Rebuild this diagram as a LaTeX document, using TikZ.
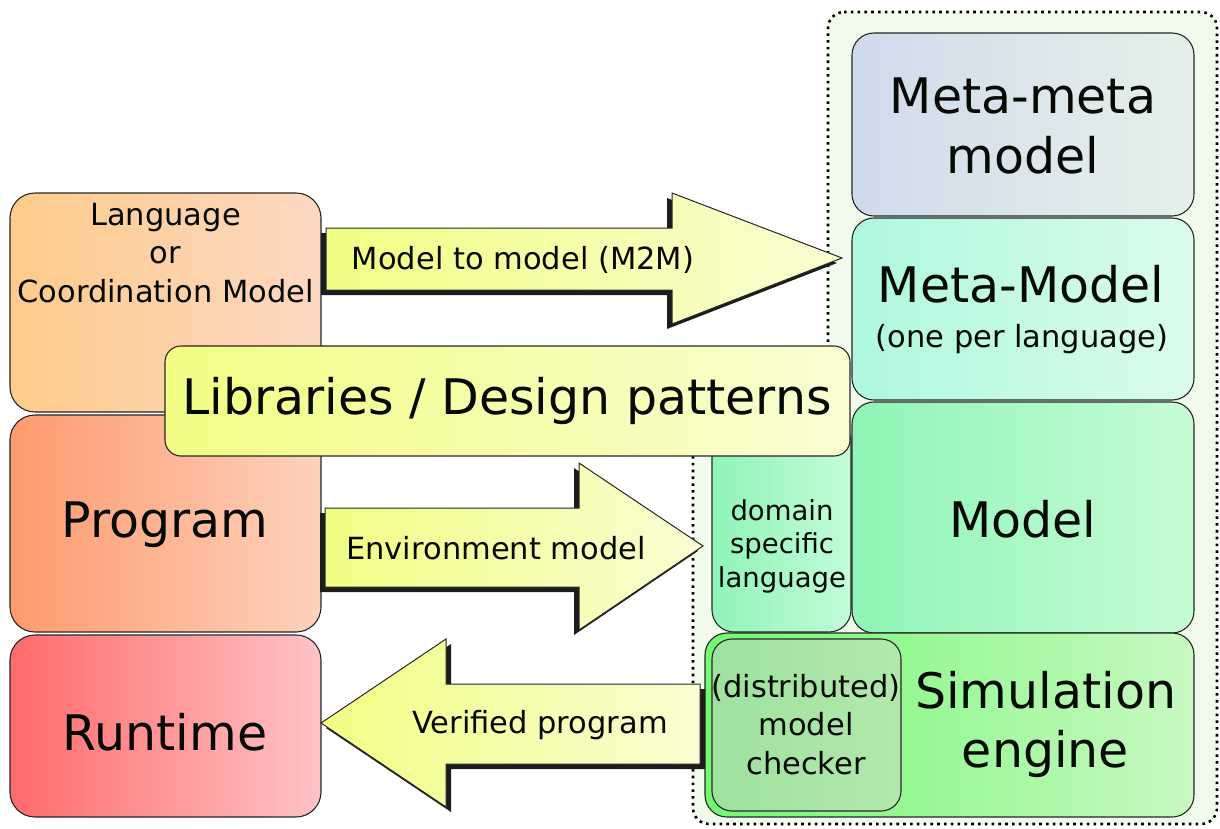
\documentclass[tikz,border=0pt]{standalone}
\usepackage{fontspec}
\setmainfont{DejaVu Sans}

% fill colours (left / right end of each horizontal gradient)
\definecolor{langL}{HTML}{FDCB8B}\definecolor{langR}{HTML}{FDD8C2}
\definecolor{progL}{HTML}{FD9A6E}\definecolor{progR}{HTML}{FED2BC}
\definecolor{runL}{HTML}{FF6B6B}\definecolor{runR}{HTML}{FFC3C6}
\definecolor{ylwL}{HTML}{F2FD84}\definecolor{ylwR}{HTML}{FAFDD2}
\definecolor{mmL}{HTML}{CFDBEC}\definecolor{mmR}{HTML}{E5F1EA}
\definecolor{metaL}{HTML}{AEF8DE}\definecolor{metaR}{HTML}{DBFCEC}
\definecolor{modelL}{HTML}{8FF5B6}\definecolor{modelR}{HTML}{C6FBD6}
\definecolor{dslL}{HTML}{8FF4B8}\definecolor{dslR}{HTML}{C2FCD8}
\definecolor{simL}{HTML}{72F872}\definecolor{simR}{HTML}{C8F8C2}
\definecolor{chkL}{HTML}{9FE29F}\definecolor{chkR}{HTML}{B2E8AC}
\definecolor{framefill}{HTML}{F0FBEB}
\definecolor{edge}{HTML}{262626}
\definecolor{shadowc}{HTML}{1C1C1C}
\definecolor{ink}{HTML}{050A05}

\tikzset{
  box/.style={draw=edge, line width=1.1pt, rounded corners=22pt, inner sep=0pt},
  bigtext/.style={font=\fontsize{49}{60}\selectfont, inner sep=0pt, text=ink, align=center},
  smalltext/.style={font=\fontsize{30.5}{38.5}\selectfont, inner sep=0pt, text=ink, align=center},
  bigarrow/.style={draw=edge, line width=1pt, left color=ylwL, right color=ylwR},
  arrowshadow/.style={fill=shadowc},
  frame/.style={fill=framefill, draw=black, line width=2.6pt,
                dash pattern=on 2.6pt off 4.2pt, rounded corners=16pt}
}

\begin{document}
\begin{tikzpicture}[x=1pt,y=-1pt]
\useasboundingbox (0,0) rectangle (1220,828);

% dotted frame around the modelling tool chain
\path[frame] (828,12) -- (1217,12) -- (1217,824) -- (693,824) -- (693,400)
  -- (828,400) -- cycle;

% modelling stack (right)
\node[box, minimum width=342pt, minimum height=183pt, left color=mmL, right color=mmR]
  (metameta) at (1023,124.5) {};
\node[box, minimum width=342pt, minimum height=182pt, left color=metaL, right color=metaR]
  (metamodel) at (1023,309) {};
\node[box, minimum width=139pt, minimum height=212pt, left color=dslL, right color=dslR]
  (dsl) at (781.5,526) {};
\node[box, minimum width=342pt, minimum height=231pt, left color=modelL, right color=modelR]
  (model) at (1023,517.5) {};
\node[box, minimum width=489pt, minimum height=184pt, left color=simL, right color=simR]
  (sim) at (949.5,725) {};
\node[box, rounded corners=20pt, minimum width=189pt, minimum height=172pt,
  left color=chkL, right color=chkR] (checker) at (806.5,725) {};

\node[bigtext, anchor=north] (metametatext) at (1023,77.5) {Meta-meta\\model};
\node[bigtext, anchor=base] (metamodeltext) at (1021,302) {Meta-Model};
\node[smalltext, anchor=base] (metamodelnote) at (1022,347) {(one per language)};
\node[bigtext, anchor=base] (modeltext) at (1023,537) {Model};
\node[smalltext, font=\fontsize{27.5}{33.5}\selectfont, anchor=north]
  (dsltext) at (782,499) {domain\\specific\\language};
\node[bigtext, font=\fontsize{49}{59}\selectfont, anchor=north]
  (simtext) at (1045.5,671) {Simulation\\engine};
\node[smalltext, anchor=north] (checkertext) at (806,674) {(distributed)\\model\\checker};

% programming stack (left)
\node[box, rounded corners=25pt, minimum width=311pt, minimum height=219pt,
  left color=langL, right color=langR] (language) at (165.5,302.5) {};
\node[box, rounded corners=25pt, minimum width=311pt, minimum height=217pt,
  left color=progL, right color=progR] (program) at (165.5,523.5) {};
\node[box, rounded corners=25pt, minimum width=311pt, minimum height=182pt,
  left color=runL, right color=runR] (runtime) at (165.5,726) {};

\node[smalltext, anchor=north] (languagetext) at (165.5,203) {Language\\or\\Coordination Model};
\node[bigtext, anchor=base] (programtext) at (165,537) {Program};
\node[bigtext, anchor=base] (runtimetext) at (165,750) {Runtime};

% transformation arrows, each with a hard drop shadow
\fill[arrowshadow, shift={(-5,5)}] (326,228) -- (672,228) -- (672,193) -- (842,258)
  -- (672,324) -- (672,290) -- (326,290) -- cycle;
\path[bigarrow] (326,228) -- (672,228) -- (672,193) -- (842,258)
  -- (672,324) -- (672,290) -- (326,290) -- cycle;
\node[smalltext, anchor=base] (m2m) at (523,269) {Model to model (M2M)};

\fill[arrowshadow, shift={(-5,5)}] (325,508) -- (579,508) -- (579,463) -- (703,546)
  -- (579,630) -- (579,587) -- (325,587) -- cycle;
\path[bigarrow] (325,508) -- (579,508) -- (579,463) -- (703,546)
  -- (579,630) -- (579,587) -- (325,587) -- cycle;
\node[smalltext, anchor=base] (envmodel) at (496,559) {Environment model};

\fill[arrowshadow, shift={(5,5)}] (700,684) -- (446,684) -- (446,639) -- (321,723)
  -- (446,807) -- (446,764) -- (700,764) -- cycle;
\path[bigarrow] (700,684) -- (446,684) -- (446,639) -- (321,723)
  -- (446,807) -- (446,764) -- (700,764) -- cycle;
\node[smalltext, anchor=base] (verified) at (540,733) {Verified program};

% libraries box laid over both stacks
\node[box, rounded corners=16pt, minimum width=685pt, minimum height=110pt,
  left color=ylwL, right color=ylwR] (libraries) at (507.5,401) {};
\node[bigtext, anchor=base] (librariestext) at (507,414) {Libraries / Design patterns};
\end{tikzpicture}
\end{document}
